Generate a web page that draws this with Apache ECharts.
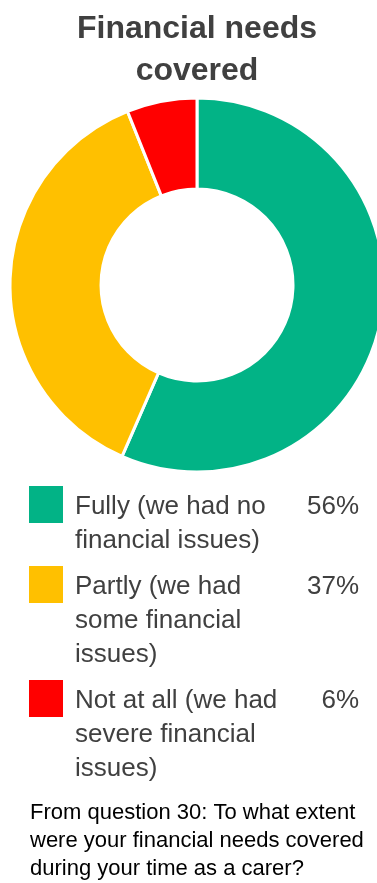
<!DOCTYPE html>
<html>
<head>
<meta charset="utf-8">
<style>
  html, body { margin: 0; padding: 0; background: #ffffff; }
  #chart { width: 377px; height: 883px; }
</style>
<script src="https://cdn.jsdelivr.net/npm/echarts@6/dist/echarts.min.js"></script>
</head>
<body>
<div id="chart"></div>
<script>
// Survey answers: how far financial needs were covered
const categories = [
  'Fully (we had no financial issues)',
  'Partly (we had some financial issues)',
  'Not at all (we had severe financial issues)'
];
// Legend text, wrapped as it is shown beside each swatch
const legendLines = [
  ['Fully (we had no', 'financial issues)'],
  ['Partly (we had', 'some financial', 'issues)'],
  ['Not at all (we had', 'severe financial', 'issues)']
];
const shares = [56, 37, 6];
const colors = ['#02B386', '#FFC000', '#FF0000'];

const titleText = 'Financial needs\ncovered';
const noteText = 'From question 30: To what extent\nwere your financial needs covered\nduring your time as a carer?';

const FONT = '"Liberation Sans", Arial, sans-serif';
const chart = echarts.init(document.getElementById('chart'), null, { renderer: 'canvas' });

// Swatch + wrapped label + percentage for each answer
const LINE_H = 34;
const ITEM_GAP = 12;
const legendGraphics = [];
let y = 486;
categories.forEach(function (name, i) {
  const lines = legendLines[i];
  legendGraphics.push({
    type: 'rect',
    left: 29, top: y,
    shape: { width: 34, height: 37 },
    style: { fill: colors[i] },
    silent: true
  });
  legendGraphics.push({
    type: 'text',
    left: 75, top: y + 4,
    style: {
      text: lines.join('\n'),
      font: '26px ' + FONT,
      lineHeight: LINE_H,
      fill: '#404040'
    }
  });
  legendGraphics.push({
    type: 'text',
    right: 18, top: y + 4,
    style: {
      text: shares[i] + '%',
      font: '26px ' + FONT,
      lineHeight: LINE_H,
      fill: '#404040',
      align: 'right'
    }
  });
  y += lines.length * LINE_H + ITEM_GAP;
});

chart.setOption({
  animation: false,
  backgroundColor: '#ffffff',
  title: {
    text: titleText,
    left: 197,
    top: 8,
    padding: 0,
    textAlign: 'center',
    textStyle: {
      fontFamily: FONT,
      fontWeight: 'bold',
      fontSize: 32,
      lineHeight: 42,
      color: '#404040'
    }
  },
  series: [{
    type: 'pie',
    center: [197, 285],
    radius: [96, 187],
    startAngle: 90,
    clockwise: true,
    label: { show: false },
    labelLine: { show: false },
    itemStyle: { borderColor: '#ffffff', borderWidth: 3 },
    emphasis: { disabled: true },
    data: categories.map(function (name, i) {
      return { name: name, value: shares[i], itemStyle: { color: colors[i] } };
    })
  }],
  graphic: legendGraphics.concat([{
    type: 'text',
    left: 30, top: 799,
    style: {
      text: noteText,
      font: '22px ' + FONT,
      lineHeight: 28,
      fill: '#000000'
    }
  }])
});
</script>
</body>
</html>
